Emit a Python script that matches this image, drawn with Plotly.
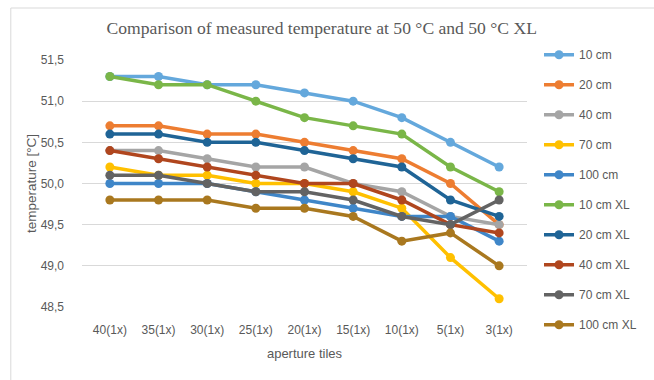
import plotly.graph_objects as go

# Aperture tile configurations along the x axis
tiles = ["40(1x)", "35(1x)", "30(1x)", "25(1x)", "20(1x)", "15(1x)", "10(1x)", "5(1x)", "3(1x)"]

# Measured temperatures [°C] for each distance
t_10cm = [51.3, 51.3, 51.2, 51.2, 51.1, 51.0, 50.8, 50.5, 50.2]
t_20cm = [50.7, 50.7, 50.6, 50.6, 50.5, 50.4, 50.3, 50.0, 49.5]
t_40cm = [50.4, 50.4, 50.3, 50.2, 50.2, 50.0, 49.9, 49.6, 49.5]
t_70cm = [50.2, 50.1, 50.1, 50.0, 50.0, 49.9, 49.7, 49.1, 48.6]
t_100cm = [50.0, 50.0, 50.0, 49.9, 49.8, 49.7, 49.6, 49.6, 49.3]
t_10cm_xl = [51.3, 51.2, 51.2, 51.0, 50.8, 50.7, 50.6, 50.2, 49.9]
t_20cm_xl = [50.6, 50.6, 50.5, 50.5, 50.4, 50.3, 50.2, 49.8, 49.6]
t_40cm_xl = [50.4, 50.3, 50.2, 50.1, 50.0, 50.0, 49.8, 49.5, 49.4]
t_70cm_xl = [50.1, 50.1, 50.0, 49.9, 49.9, 49.8, 49.6, 49.5, 49.8]
t_100cm_xl = [49.8, 49.8, 49.8, 49.7, 49.7, 49.6, 49.3, 49.4, 49.0]

series_names = ["10 cm", "20 cm", "40 cm", "70 cm", "100 cm",
                "10 cm XL", "20 cm XL", "40 cm XL", "70 cm XL", "100 cm XL"]
series_values = [t_10cm, t_20cm, t_40cm, t_70cm, t_100cm,
                 t_10cm_xl, t_20cm_xl, t_40cm_xl, t_70cm_xl, t_100cm_xl]
series_colors = ["#64A8DC", "#ED7D31", "#A5A5A5", "#FFC000", "#3F86C8",
                 "#7AB648", "#1F6496", "#B0461E", "#636363", "#A9781F"]

label_font = "Liberation Sans Narrow, Arial Narrow, Liberation Sans, sans-serif"

fig = go.Figure()
for name, vals, col in zip(series_names, series_values, series_colors):
    fig.add_trace(go.Scatter(
        x=tiles, y=vals, name=name, legendgroup=name,
        mode="lines+markers",
        line=dict(color=col, width=3.5),
        marker=dict(color=col, size=9),
    ))

# Light frame around the chart area
fig.add_shape(type="rect", xref="paper", yref="paper",
              x0=-0.160, x1=1.30, y0=-0.40, y1=1.2105,
              line=dict(color="#D9D9D9", width=1), fillcolor="rgba(0,0,0,0)",
              layer="below")

fig.update_layout(
    width=654, height=380,
    margin=dict(l=82, r=110, t=60, b=73),
    paper_bgcolor="white", plot_bgcolor="white",
    separators=",.",
    title=dict(text="Comparison of measured temperature at 50 °C and 50 °C XL",
               x=0.492, xref="container", xanchor="center",
               y=1 - 28 / 380, yref="container", yanchor="middle",
               font=dict(family="Liberation Serif, Times New Roman, serif",
                         size=17.6, color="#595959")),
    font=dict(family=label_font, size=12, color="#595959"),
    legend=dict(x=1.027, xanchor="left", y=1.08, yanchor="top",
                tracegroupgap=11, itemwidth=30, maxheight=340,
                font=dict(family=label_font, size=12, color="#595959"),
                bgcolor="rgba(0,0,0,0)"),
    xaxis=dict(
        title=dict(text="aperture tiles", standoff=12,
                   font=dict(family=label_font, size=13, color="#595959")),
        showgrid=False, showline=False, zeroline=False, ticks="",
        ticklabelstandoff=14,
        tickfont=dict(family=label_font, size=12, color="#595959"),
    ),
    yaxis=dict(
        title=dict(text="temperature [°C]", standoff=0,
                   font=dict(family=label_font, size=13.5, color="#595959")),
        range=[48.5, 51.5], dtick=0.5, tickformat=".1f",
        showgrid=True, gridcolor="#D9D9D9", gridwidth=1,
        zeroline=False, showline=False, ticks="",
        ticklabelstandoff=17,
        tickfont=dict(family=label_font, size=12, color="#595959"),
    ),
)

fig.write_html("out.html")
